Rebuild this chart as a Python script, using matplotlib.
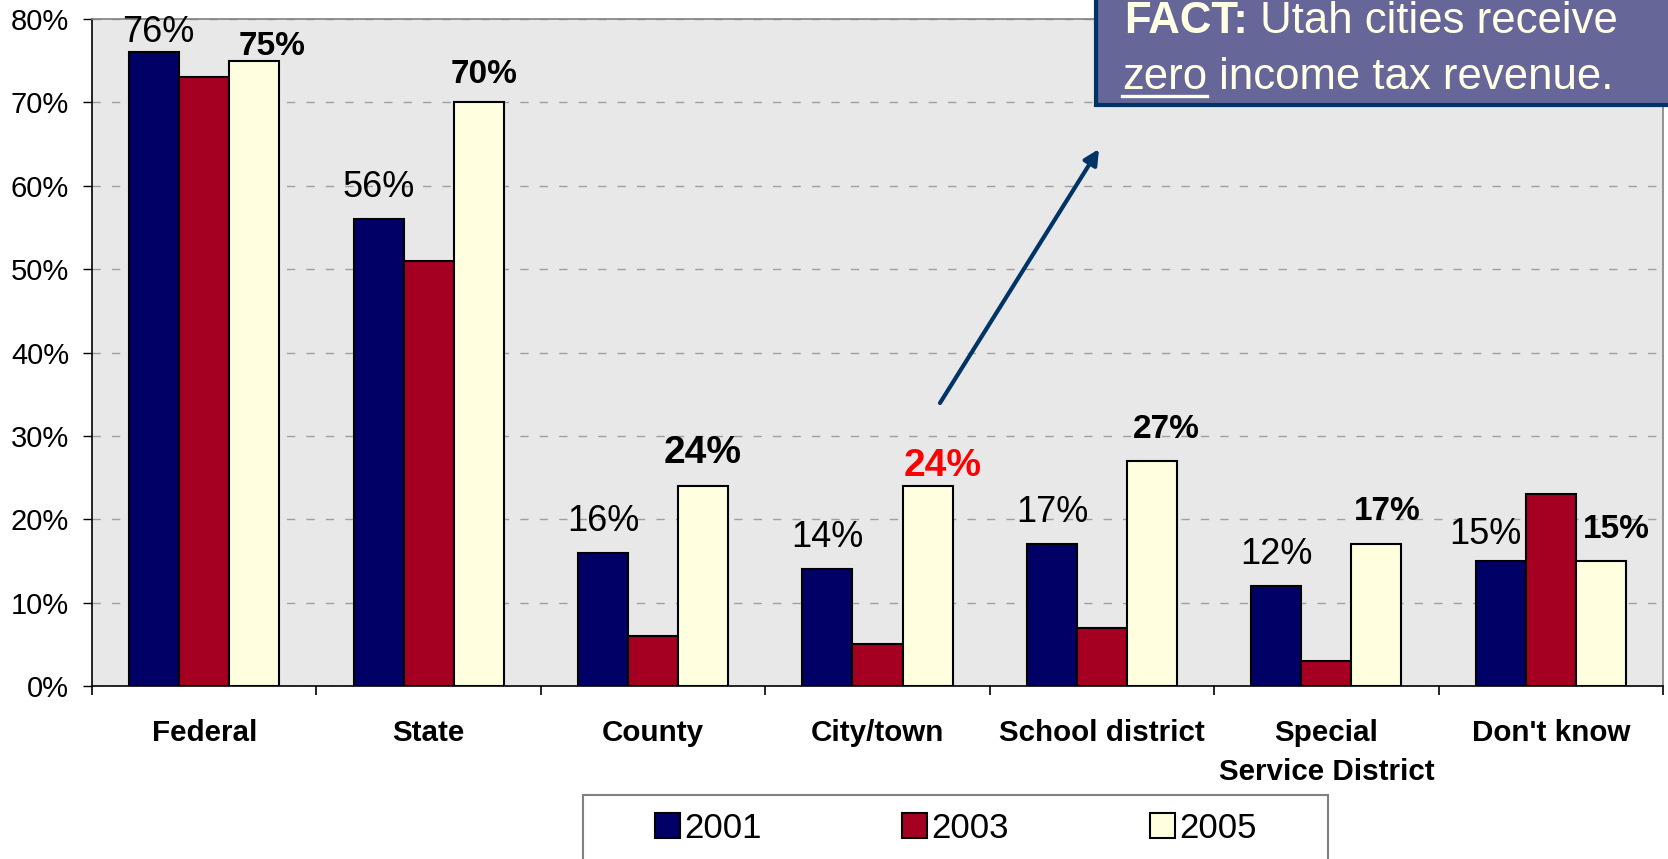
import matplotlib
matplotlib.use("Agg")
import matplotlib.pyplot as plt
from matplotlib.patches import Rectangle
from matplotlib.lines import Line2D
import numpy as np

plt.rcParams['font.family'] = ['Liberation Sans', 'DejaVu Sans']

# ---------------- data ----------------
categories = ["Federal", "State", "County", "City/town", "School district",
              "Special\nService District", "Don't know"]
years = ["2001", "2003", "2005"]
v2001 = [76, 56, 16, 14, 17, 12, 15]
v2003 = [73, 51, 6, 5, 7, 3, 23]
v2005 = [75, 70, 24, 24, 27, 17, 15]
y_ticks = [0, 10, 20, 30, 40, 50, 60, 70, 80]

# ---------------- styling ----------------
W, H = 1668, 859
DPI = 100
PX = 72.0 / DPI  # points per pixel

colors = ["#000066", "#A50021", "#FFFFE0"]
bar_w = 0.223

fig = plt.figure(figsize=(W / DPI, H / DPI), dpi=DPI)
fig.patch.set_facecolor("white")

def fx(x):
    return x / W

def fy(y):
    return 1 - y / H

ax_left, ax_right, ax_top, ax_bot = 92, 1663, 19, 686
ax = fig.add_axes([fx(ax_left), fy(ax_bot), (ax_right - ax_left) / W, (ax_bot - ax_top) / H])
ax.set_facecolor("#E8E8E8")

x = np.arange(len(categories))
series = [v2001, v2003, v2005]
bars = []
for i, (vals, c) in enumerate(zip(series, colors)):
    b = ax.bar(x + (i - 1) * bar_w, vals, width=bar_w, color=c, edgecolor="black",
               linewidth=1.5, label=years[i], zorder=3)
    bars.append(b)

ax.set_xlim(-0.5, len(categories) - 0.5)
ax.set_ylim(0, 80)
ax.set_yticks(y_ticks)
ax.set_yticklabels([f"{t}%" for t in y_ticks], fontsize=21)
ax.tick_params(axis="y", direction="out", length=6.5, width=1, pad=10)
ax.yaxis.grid(True, linestyle=(0, (6, 8)), color="#A0A0A0", linewidth=1, zorder=1)
ax.set_axisbelow(True)

ax.set_xticks(x)
ax.set_xticklabels(categories, fontsize=21.3, fontweight="bold", linespacing=1.5)
ax.tick_params(axis="x", which="major", length=0, pad=24)
ax.set_xticks(np.arange(len(categories) + 1) - 0.5, minor=True)
ax.tick_params(axis="x", which="minor", direction="out", length=6.5, width=1.2)

for s in ["left", "bottom"]:
    ax.spines[s].set_color("black")
    ax.spines[s].set_linewidth(1.2)
for s in ["top", "right"]:
    ax.spines[s].set_color("#808080")
    ax.spines[s].set_linewidth(1.2)

# data labels: default baseline offset 22 px above bar top
default_dy = 22
adjust_2001 = {0: (4, 10), 6: (-15, 17)}
adjust_2005 = {0: (18, 6), 1: (5, 19), 2: (0, 23), 3: (15, 10), 4: (14, 23),
               5: (11, 24), 6: (15, 23)}
big_2005 = {2: "black", 3: "red"}

for i, v in enumerate(v2001):
    dx, dy = adjust_2001.get(i, (0, default_dy))
    ax.annotate(f"{v}%", xy=(x[i] - bar_w, v), xytext=(dx * PX, dy * PX),
                textcoords="offset points", ha="center", va="baseline",
                fontsize=26, color="black", zorder=5)

for i, v in enumerate(v2005):
    dx, dy = adjust_2005.get(i, (0, default_dy))
    fs = 28 if i in big_2005 else 24
    col = big_2005.get(i, "black")
    ax.annotate(f"{v}%", xy=(x[i] + bar_w, v), xytext=(dx * PX, dy * PX),
                textcoords="offset points", ha="center", va="baseline",
                fontsize=fs, fontweight="bold", color=col, zorder=5)

# legend frame (drawn manually) and entries
leg_frame = Rectangle((fx(583), fy(880)), (1328 - 583) / W, (880 - 795) / H,
                      transform=fig.transFigure, facecolor="white", edgecolor="#808080",
                      linewidth=1.5, clip_on=False, zorder=4)
fig.add_artist(leg_frame)
leg = fig.legend(handles=bars, labels=years, ncol=3, loc="center left",
                 bbox_to_anchor=(fx(655), fy(828)), frameon=False, fontsize=25,
                 handlelength=0.72, handleheight=0.72, handletextpad=0.12,
                 columnspacing=4.05, borderaxespad=0, borderpad=0)
leg.set_zorder(6)

# FACT box
fact_box = Rectangle((fx(1096), fy(105)), (W + 20 - 1096) / W, 40 / H + 105 / H,
                     transform=fig.transFigure, facecolor="#666699", edgecolor="#003366",
                     linewidth=3, clip_on=False, zorder=7)
fig.add_artist(fact_box)
cream = "#FFFFE6"
FS_FACT = 31.5
L1, L2 = 33, 89
t1 = fig.text(fx(1124), fy(L1), "FACT:", fontsize=FS_FACT, fontweight="bold", color=cream,
              ha="left", va="baseline", zorder=8)
t3 = fig.text(fx(1122), fy(L2), "zero", fontsize=FS_FACT, color=cream,
              ha="left", va="baseline", zorder=8)
fig.canvas.draw()
r = fig.canvas.get_renderer()
b1 = t1.get_window_extent(r)
fig.text(b1.x1 / W, fy(L1), " Utah cities receive", fontsize=FS_FACT, color=cream,
         ha="left", va="baseline", zorder=8)
b3 = t3.get_window_extent(r)
fig.text(b3.x1 / W, fy(L2), " income tax revenue.", fontsize=FS_FACT, color=cream,
         ha="left", va="baseline", zorder=8)
fig.add_artist(Line2D([b3.x0 / W, b3.x1 / W], [fy(L2 + 6.5), fy(L2 + 6.5)],
                      transform=fig.transFigure, color=cream, linewidth=2.4, zorder=8))

# arrow
ax.annotate("", xy=(1099, H - 149), xycoords="figure pixels",
            xytext=(940, H - 403), textcoords="figure pixels",
            arrowprops=dict(arrowstyle="-|>,head_length=0.9,head_width=0.45",
                            color="#003366", linewidth=3, shrinkA=0, shrinkB=0),
            zorder=6)

fig.savefig("out.png", dpi=DPI)
